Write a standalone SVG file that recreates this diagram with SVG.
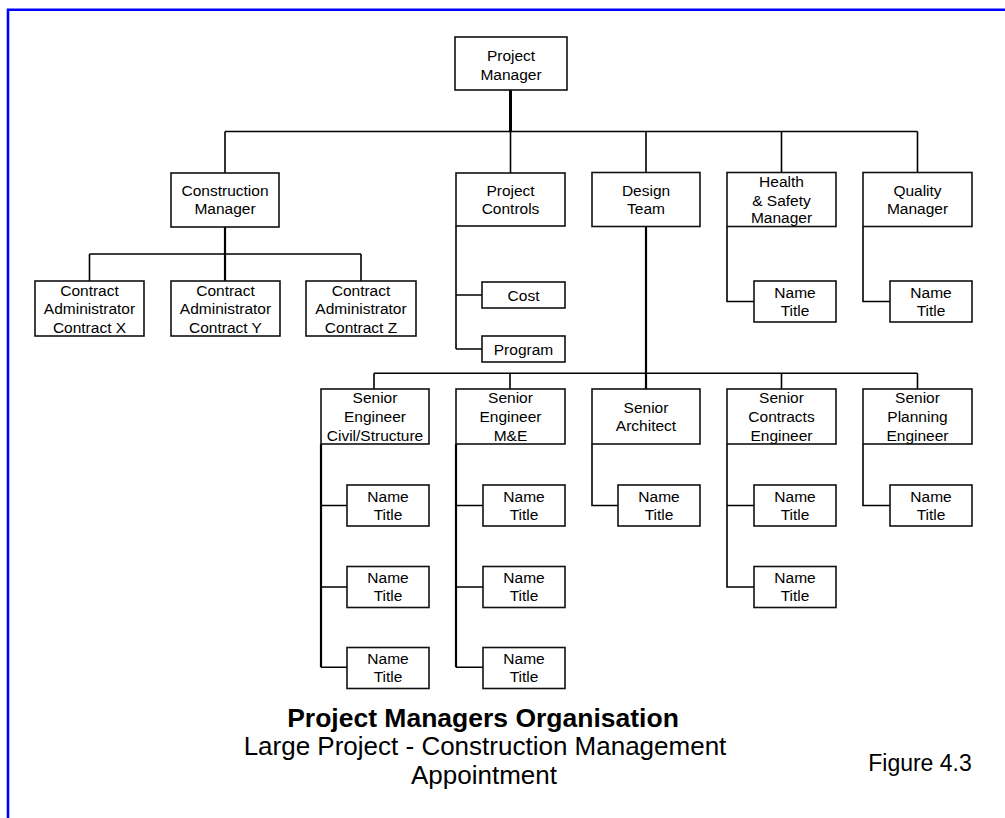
<svg xmlns="http://www.w3.org/2000/svg" width="1005" height="818" viewBox="0 0 1005 818">
<style>
.box{fill:#fff;stroke:#111;stroke-width:1.6}
.t{font-family:"Liberation Sans",Arial,sans-serif;font-size:15.5px;fill:#000;text-anchor:middle}
.c{fill:none;stroke:#000;stroke-width:1.6}
.c2{fill:none;stroke:#000;stroke-width:2.2}
.c3{fill:none;stroke:#000;stroke-width:3}
.title{font-family:"Liberation Sans",Arial,sans-serif;fill:#000;text-anchor:middle}
</style>
<rect width="1005" height="818" fill="#fff"/>
<path d="M8,818 V9.7 H1005" fill="none" stroke="#0000ff" stroke-width="2.6"/>
<g id="connectors">
<path class="c" d="M225,131.5 H917.5 M225,131.5 V173 M510.5,131.5 V173 M646,131.5 V172.5 M781.5,131.5 V172.5 M917.5,131.5 V172.5"/>
<path class="c3" d="M510.5,90 V131.5"/>
<path class="c2" d="M225,227 V281"/>
<path class="c" d="M89.5,254 H361 M89.5,254 V281 M361,254 V281"/>
<path class="c" d="M456,226 V349 M456,295 H482 M456,349 H482"/>
<path class="c" d="M727,227 V301.5 H754 M863,227 V301.5 H890"/>
<path class="c2" d="M646,227 V389"/>
<path class="c" d="M374,373.3 H917.5 M374,373.3 V389 M510,373.3 V389 M781.5,373.3 V389 M917.5,373.3 V389"/>
<path class="c2" d="M321,444 V667.3"/>
<path class="c" d="M321,505.5 H347 M321,587 H347 M321,667.3 H347"/>
<path class="c2" d="M456,444 V667.3"/>
<path class="c" d="M456,505.5 H483 M456,587 H483 M456,667.3 H483"/>
<path class="c" d="M592,444 V505.5 H618"/>
<path class="c" d="M727,444 V587 H754 M727,505.5 H754"/>
<path class="c" d="M863,444 V505.5 H890"/>
</g>
<g id="pm"><rect class="box" x="455" y="37" width="112" height="53"/><text class="t" x="511" y="61">Project</text><text class="t" x="511" y="79.5">Manager</text></g>
<g id="cm"><rect class="box" x="171" y="173" width="108" height="54"/><text class="t" x="225" y="195.5">Construction</text><text class="t" x="225" y="214">Manager</text></g>
<g id="pc"><rect class="box" x="456" y="173" width="109" height="53"/><text class="t" x="510.5" y="195.5">Project</text><text class="t" x="510.5" y="214">Controls</text></g>
<g id="dt"><rect class="box" x="592" y="172.5" width="108" height="54"/><text class="t" x="646" y="195.5">Design</text><text class="t" x="646" y="214">Team</text></g>
<g id="hs"><rect class="box" x="727" y="172.5" width="109" height="54"/><text class="t" x="781.5" y="186.5">Health</text><text class="t" x="781.5" y="205.5">&amp; Safety</text><text class="t" x="781.5" y="223">Manager</text></g>
<g id="qm"><rect class="box" x="863" y="172.5" width="109" height="54"/><text class="t" x="917.5" y="195.5">Quality</text><text class="t" x="917.5" y="214">Manager</text></g>
<g id="cax"><rect class="box" x="35" y="281" width="109" height="55"/><text class="t" x="89.5" y="295.5">Contract</text><text class="t" x="89.5" y="314">Administrator</text><text class="t" x="89.5" y="332.5">Contract X</text></g>
<g id="cay"><rect class="box" x="171" y="281" width="109" height="55"/><text class="t" x="225.5" y="295.5">Contract</text><text class="t" x="225.5" y="314">Administrator</text><text class="t" x="225.5" y="332.5">Contract Y</text></g>
<g id="caz"><rect class="box" x="306" y="281" width="110" height="55"/><text class="t" x="361" y="295.5">Contract</text><text class="t" x="361" y="314">Administrator</text><text class="t" x="361" y="332.5">Contract Z</text></g>
<g id="cost"><rect class="box" x="482" y="282" width="83" height="26"/><text class="t" x="523.5" y="300.5">Cost</text></g>
<g id="program"><rect class="box" x="482" y="336" width="83" height="26"/><text class="t" x="523.5" y="354.5">Program</text></g>
<g id="hsn"><rect class="box" x="754" y="281" width="82" height="41"/><text class="t" x="795" y="297.5">Name</text><text class="t" x="795" y="315.5">Title</text></g>
<g id="qmn"><rect class="box" x="890" y="281" width="82" height="41"/><text class="t" x="931" y="297.5">Name</text><text class="t" x="931" y="315.5">Title</text></g>
<g id="sec"><rect class="box" x="321" y="389" width="108" height="55"/><text class="t" x="375" y="403.2">Senior</text><text class="t" x="375" y="422.2">Engineer</text><text class="t" x="375" y="440.5">Civil/Structure</text></g>
<g id="seme"><rect class="box" x="456" y="389" width="109" height="55"/><text class="t" x="510.5" y="403.2">Senior</text><text class="t" x="510.5" y="422.2">Engineer</text><text class="t" x="510.5" y="440.5">M&amp;E</text></g>
<g id="sa"><rect class="box" x="592" y="389" width="108" height="55"/><text class="t" x="646" y="413">Senior</text><text class="t" x="646" y="431">Architect</text></g>
<g id="sce"><rect class="box" x="727" y="389" width="109" height="55"/><text class="t" x="781.5" y="403.2">Senior</text><text class="t" x="781.5" y="422.2">Contracts</text><text class="t" x="781.5" y="440.5">Engineer</text></g>
<g id="spe"><rect class="box" x="863" y="389" width="109" height="55"/><text class="t" x="917.5" y="403.2">Senior</text><text class="t" x="917.5" y="422.2">Planning</text><text class="t" x="917.5" y="440.5">Engineer</text></g>
<g id="sec1"><rect class="box" x="347" y="485" width="82" height="41"/><text class="t" x="388" y="501.5">Name</text><text class="t" x="388" y="519.5">Title</text></g>
<g id="sec2"><rect class="box" x="347" y="566.5" width="82" height="41"/><text class="t" x="388" y="583">Name</text><text class="t" x="388" y="601">Title</text></g>
<g id="sec3"><rect class="box" x="347" y="647.5" width="82" height="41"/><text class="t" x="388" y="664">Name</text><text class="t" x="388" y="682">Title</text></g>
<g id="seme1"><rect class="box" x="483" y="485" width="82" height="41"/><text class="t" x="524" y="501.5">Name</text><text class="t" x="524" y="519.5">Title</text></g>
<g id="seme2"><rect class="box" x="483" y="566.5" width="82" height="41"/><text class="t" x="524" y="583">Name</text><text class="t" x="524" y="601">Title</text></g>
<g id="seme3"><rect class="box" x="483" y="647.5" width="82" height="41"/><text class="t" x="524" y="664">Name</text><text class="t" x="524" y="682">Title</text></g>
<g id="sa1"><rect class="box" x="618" y="485" width="82" height="41"/><text class="t" x="659" y="501.5">Name</text><text class="t" x="659" y="519.5">Title</text></g>
<g id="sce1"><rect class="box" x="754" y="485" width="82" height="41"/><text class="t" x="795" y="501.5">Name</text><text class="t" x="795" y="519.5">Title</text></g>
<g id="sce2"><rect class="box" x="754" y="566.5" width="82" height="41"/><text class="t" x="795" y="583">Name</text><text class="t" x="795" y="601">Title</text></g>
<g id="spe1"><rect class="box" x="890" y="485" width="82" height="41"/><text class="t" x="931" y="501.5">Name</text><text class="t" x="931" y="519.5">Title</text></g>
<g id="caption">
<text class="title" x="483" y="727" font-size="26.5" font-weight="bold">Project Managers Organisation</text>
<text class="title" x="485" y="755" font-size="26">Large Project - Construction Management</text>
<text class="title" x="484" y="784" font-size="26">Appointment</text>
<text class="title" x="920" y="771" font-size="23">Figure 4.3</text>
</g>
</svg>
